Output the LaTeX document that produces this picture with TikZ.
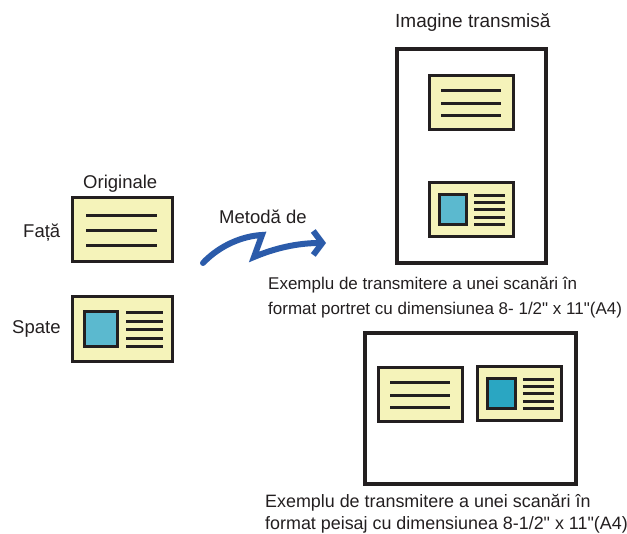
\documentclass[tikz,border=0pt]{standalone}
\usepackage{fontspec}
\setmainfont{Liberation Sans}
\usetikzlibrary{arrows.meta}
\definecolor{inkc}{HTML}{231F20}
\definecolor{paperc}{HTML}{F5F3BA}
\definecolor{photoc}{HTML}{5BB9CF}
\definecolor{photod}{HTML}{2AA6C2}
\definecolor{flowc}{HTML}{2B5BAA}
\newcommand{\qt}{\XeTeXglyph\XeTeXcharglyph"22\relax}
\tikzset{
  card/.style={draw=inkc,line width=3pt,fill=paperc},
  pg/.style={draw=inkc,line width=3.2pt,fill=white},
  ln/.style={inkc,line width=3pt},
  sq/.style={draw=inkc,line width=3pt,fill=photoc},
  lbl/.style={inner sep=0pt,anchor=base west,text=inkc,font=\fontsize{18.5}{22}\selectfont},
  captxt/.style={inner sep=0pt,anchor=base west,text=inkc,font=\fontsize{17}{20}\selectfont},
  ar/.style={-{Straight Barb[length=9pt,width=24pt]},line width=6pt,flowc,line cap=round}
}
\begin{document}
\begin{tikzpicture}[x=1pt,y=-1pt]
\useasboundingbox (0,0) rectangle (627,534);
% pages
\draw[pg] (397,49) rectangle (546,263);
\draw[pg] (365,333) rectangle (576,484);
% originals, front
\begin{scope}[shift={(122,230)}]
\draw[card] (-50,-32) rectangle (50,32);
\foreach \yy in {-14,1,16} \draw[ln] (-36,\yy) -- (35,\yy);
\end{scope}
% originals, back
\begin{scope}[shift={(122,329.5)}]
\draw[card] (-50,-32.5) rectangle (50,32.5);
\draw[sq] (-38,-17.5) rectangle (-5,17.5);
\foreach \yy in {-16.5,-8,0.5,9,17.5} \draw[ln] (4,\yy) -- (41,\yy);
\end{scope}
% portrait page
\begin{scope}[shift={(471.5,102.5)},scale=0.84]
\draw[card] (-50,-32) rectangle (50,32);
\foreach \yy in {-14,1,16} \draw[ln] (-36,\yy) -- (35,\yy);
\end{scope}
\begin{scope}[shift={(471,209.5)},scale=0.84]
\draw[card] (-50,-32) rectangle (50,32);
\draw[sq] (-38,-17.5) rectangle (-5,17.5);
\foreach \yy in {-16.5,-8,0.5,9,17.5} \draw[ln] (4,\yy) -- (41,\yy);
\end{scope}
% landscape page
\begin{scope}[shift={(420.5,394.5)},scale=0.84]
\draw[card] (-50,-32) rectangle (50,32);
\foreach \yy in {-14,1,16} \draw[ln] (-36,\yy) -- (35,\yy);
\end{scope}
\begin{scope}[shift={(519.5,393.5)},scale=0.84]
\draw[card] (-50,-32) rectangle (50,32);
\draw[sq,fill=photod] (-38,-17.5) rectangle (-5,17.5);
\foreach \yy in {-16.5,-8,0.5,9,17.5} \draw[ln] (4,\yy) -- (41,\yy);
\end{scope}
% labels
\node[lbl,font=\fontsize{19}{22}\selectfont] (ttl) at (395,28) {Imagine transmisă};
\node[lbl] (orig) at (83,189) {Originale};
\node[lbl] (fata) at (23,238) {Față};
\node[lbl] (spate) at (12,334) {Spate};
\node[lbl] (metd) at (219,224) {Metodă de};
\node[captxt] (capP1) at (268,290) {Exemplu de transmitere a unei scanări în};
\node[captxt] (capP2) at (268,315) {format portret cu dimensiunea 8- 1/2\qt{} x 11\qt(A4)};
\node[captxt,font=\fontsize{17.9}{20}\selectfont] (capL1) at (265,508) {Exemplu de transmitere a unei scanări în};
\node[captxt,font=\fontsize{17.9}{20}\selectfont] (capL2) at (265,530) {format peisaj cu dimensiunea 8-1/2\qt{} x 11\qt(A4)};
% arrow
\coordinate (aS) at (203,263);
\coordinate (aE) at (326,243);
\draw[ar] (aS) .. controls (220,245) and (243,236) .. (262,235) -- (254,257) .. controls (280,246) and (303,243) .. (aE);
\end{tikzpicture}
\end{document}
